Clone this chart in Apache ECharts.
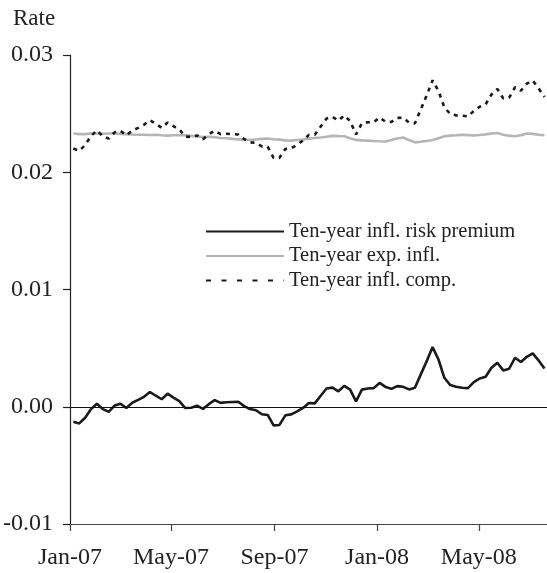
<!DOCTYPE html>
<html>
<head>
<meta charset="utf-8">
<script src="https://cdn.jsdelivr.net/npm/echarts@6/dist/echarts.min.js"></script>
<style>
html,body{margin:0;padding:0;background:#fff;}
#chart{width:547px;height:573px;}
</style>
</head>
<body>
<div id="chart"></div>
<script>
// Weekly observation dates
const dates = [
'2007-01-05','2007-01-12','2007-01-19','2007-01-26','2007-02-02','2007-02-09','2007-02-16','2007-02-23','2007-03-02','2007-03-09',
'2007-03-16','2007-03-23','2007-03-30','2007-04-06','2007-04-13','2007-04-20','2007-04-27','2007-05-04','2007-05-11','2007-05-18',
'2007-05-25','2007-06-01','2007-06-08','2007-06-15','2007-06-22','2007-06-29','2007-07-06','2007-07-13','2007-07-20','2007-07-27',
'2007-08-03','2007-08-10','2007-08-17','2007-08-24','2007-08-31','2007-09-07','2007-09-14','2007-09-21','2007-09-28','2007-10-05',
'2007-10-12','2007-10-19','2007-10-26','2007-11-02','2007-11-09','2007-11-16','2007-11-23','2007-11-30','2007-12-07','2007-12-14',
'2007-12-21','2007-12-28','2008-01-04','2008-01-11','2008-01-18','2008-01-25','2008-02-01','2008-02-08','2008-02-15','2008-02-22',
'2008-02-29','2008-03-07','2008-03-14','2008-03-21','2008-03-28','2008-04-04','2008-04-11','2008-04-18','2008-04-25','2008-05-02',
'2008-05-09','2008-05-16','2008-05-23','2008-05-30','2008-06-06','2008-06-13','2008-06-20','2008-06-27','2008-07-04','2008-07-11',
'2008-07-18'
];

const riskPremium = [
-0.00128,-0.00142,-0.00094,-0.00020,0.00026,-0.00020,-0.00043,0.00010,0.00026,-0.00011,
0.00034,0.00058,0.00085,0.00126,0.00094,0.00064,0.00112,0.00078,0.00048,-0.00011,
-0.00009,0.00009,-0.00018,0.00022,0.00057,0.00033,0.00038,0.00041,0.00042,0.00005,
-0.00020,-0.00030,-0.00064,-0.00070,-0.00159,-0.00155,-0.00073,-0.00065,-0.00040,-0.00010,
0.00032,0.00029,0.00094,0.00156,0.00163,0.00132,0.00178,0.00146,0.00046,0.00146,
0.00156,0.00159,0.00203,0.00169,0.00153,0.00176,0.00170,0.00148,0.00162,0.00276,
0.00389,0.00509,0.00403,0.00247,0.00185,0.00170,0.00162,0.00159,0.00210,0.00241,
0.00256,0.00333,0.00375,0.00310,0.00324,0.00418,0.00381,0.00426,0.00455,0.00395,0.00327
];

const expInfl = [
0.02330,0.02325,0.02325,0.02330,0.02330,0.02328,0.02330,0.02330,0.02327,0.02325,
0.02322,0.02320,0.02320,0.02318,0.02320,0.02315,0.02312,0.02315,0.02318,0.02315,
0.02310,0.02305,0.02300,0.02302,0.02298,0.02292,0.02290,0.02285,0.02280,0.02278,
0.02275,0.02280,0.02285,0.02288,0.02282,0.02278,0.02272,0.02270,0.02275,0.02280,
0.02287,0.02292,0.02296,0.02303,0.02310,0.02308,0.02307,0.02290,0.02276,0.02272,
0.02270,0.02267,0.02264,0.02262,0.02276,0.02288,0.02296,0.02275,0.02255,0.02260,
0.02267,0.02275,0.02290,0.02307,0.02312,0.02315,0.02320,0.02317,0.02313,0.02318,
0.02323,0.02330,0.02335,0.02320,0.02312,0.02307,0.02315,0.02330,0.02327,0.02320,0.02315
];

const inflComp = [
0.02202,0.02183,0.02231,0.02310,0.02356,0.02308,0.02287,0.02340,0.02353,0.02314,
0.02356,0.02378,0.02405,0.02444,0.02414,0.02379,0.02424,0.02393,0.02366,0.02304,
0.02301,0.02314,0.02282,0.02324,0.02355,0.02325,0.02328,0.02326,0.02322,0.02283,
0.02255,0.02250,0.02221,0.02218,0.02123,0.02123,0.02199,0.02205,0.02235,0.02270,
0.02319,0.02321,0.02390,0.02459,0.02473,0.02440,0.02485,0.02436,0.02322,0.02418,
0.02426,0.02426,0.02467,0.02431,0.02429,0.02464,0.02466,0.02423,0.02417,0.02536,
0.02656,0.02784,0.02693,0.02554,0.02497,0.02485,0.02482,0.02476,0.02523,0.02559,
0.02579,0.02663,0.02710,0.02630,0.02636,0.02725,0.02696,0.02756,0.02782,0.02715,0.02642
];

const seriesNames = ['Ten-year infl. risk premium','Ten-year exp. infl.','Ten-year infl. comp.'];
const tickDates = ['2007-01-01','2007-05-01','2007-09-01','2008-01-01','2008-05-01'];
const tickLabels = ['Jan-07','May-07','Sep-07','Jan-08','May-08'];
const xStart = '2007-01-01';
const xEnd = '2008-07-21';
const yMin = -0.01, yMax = 0.03, yStep = 0.01;
const yTitle = 'Rate';

function ts(s){ const p = s.split('-').map(Number); return Date.UTC(p[0], p[1]-1, p[2]); }
const tickTs = tickDates.map(ts);
const labelMap = {};
tickTs.forEach((t,i)=>{ labelMap[t] = tickLabels[i]; });
function pairs(vals){ return dates.map((d,i)=>[ts(d), vals[i]]); }

const FONT = "'Liberation Serif','Times New Roman',serif";

const chart = echarts.init(document.getElementById('chart'), null, {renderer:'canvas'});
chart.setOption({
  animation: false,
  backgroundColor: '#fff',
  title: {
    text: yTitle, left: 8, top: 2, padding: 5,
    textStyle: {fontFamily: FONT, fontSize: 23, fontWeight: 'normal', color: '#222'}
  },
  grid: {left: 69, right: 0, top: 55, bottom: 49, containLabel: false},
  legend: {
    orient: 'vertical', left: 205, top: 221, padding: 0,
    itemWidth: 78, itemHeight: 14, itemGap: 3.5,
    data: [
      {name: seriesNames[0]},
      {name: seriesNames[1]},
      {name: seriesNames[2], lineStyle: {type: [5, 10.5]}}
    ],
    itemStyle: {color: 'rgba(0,0,0,0)', borderColor: 'rgba(0,0,0,0)', borderWidth: 0},
    textStyle: {fontFamily: FONT, fontSize: 20.5, color: '#222', lineHeight: 20}
  },
  xAxis: {
    type: 'value', min: ts(xStart), max: ts(xEnd),
    axisLine: {onZero: false, lineStyle: {color: '#444', width: 1.2}},
    axisTick: {show: true, length: 7, customValues: tickTs, lineStyle: {color: '#444', width: 1.2}},
    axisLabel: {customValues: tickTs, formatter: v => labelMap[v] || '', margin: 22,
      fontFamily: FONT, fontSize: 24, color: '#222', hideOverlap: false,
      showMinLabel: true, showMaxLabel: true},
    splitLine: {show: false}
  },
  yAxis: {
    type: 'value', min: yMin, max: yMax, interval: yStep,
    axisLine: {show: true, lineStyle: {color: '#222', width: 1.2}},
    axisTick: {show: true, length: 7, lineStyle: {color: '#222', width: 1.2}},
    axisLabel: {formatter: v => v.toFixed(2), margin: 17, fontFamily: FONT, fontSize: 24, color: '#222'},
    splitLine: {show: false}
  },
  series: [
    {
      name: seriesNames[1], type: 'line', data: pairs(expInfl), symbol: 'none',
      lineStyle: {color: '#b5b5b5', width: 2.6}, itemStyle: {color: '#b5b5b5'}, z: 2
    },
    {
      name: seriesNames[2], type: 'line', data: pairs(inflComp), symbol: 'none',
      lineStyle: {color: '#1a1a1a', width: 2.6, type: [4, 5]}, itemStyle: {color: '#1a1a1a'}, z: 3
    },
    {
      name: seriesNames[0], type: 'line', data: pairs(riskPremium), symbol: 'none',
      lineStyle: {color: '#1a1a1a', width: 2.6}, itemStyle: {color: '#1a1a1a'}, z: 4,
      markLine: {
        silent: true, symbol: ['none','none'], label: {show: false},
        lineStyle: {color: '#111', width: 1, type: 'solid'},
        data: [{yAxis: 0}]
      }
    }
  ]
});
</script>
</body>
</html>
